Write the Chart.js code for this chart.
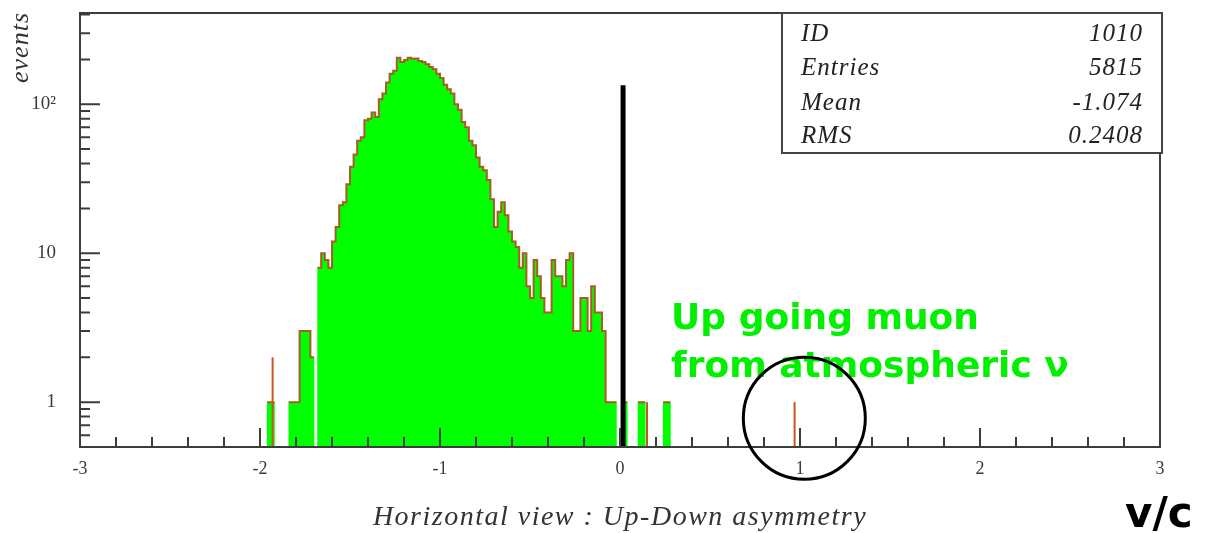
<!DOCTYPE html>
<html>
<head>
<meta charset="utf-8">
<script src="https://cdn.jsdelivr.net/npm/chart.js@4.4.1/dist/chart.umd.min.js"></script>
<style>
  body { margin: 0; background: #fff; }
  canvas { display: block; }
</style>
</head>
<body>
<canvas id="myChart" width="1207" height="533"></canvas>
<script>
// histogram bins: width 0.02, first bin starts at -2.00
var binStart = -2.0;
var binWidth = 0.02;
var counts = [
  0, 0, 1, 1, 0, 0, 0, 0, 1, 1,          // -2.00 .. -1.82
  1, 3, 3, 3, 2, 0, 8, 10, 9, 8,          // -1.80 .. -1.62
  12, 15, 21, 22, 29, 38, 46, 57, 60, 78, // -1.60 .. -1.42
  80, 88, 82, 108, 118, 140, 160, 168, 205, 192, // -1.40 .. -1.22
  198, 205, 202, 203, 195, 192, 186, 178, 172, 160, // -1.20 .. -1.02
  150, 135, 126, 118, 100, 92, 76, 70, 57, 53,  // -1.00 .. -0.82
  44, 38, 36, 31, 23, 15, 19, 22, 18, 14, // -0.80 .. -0.62
  12, 11, 8, 10, 6, 5, 9, 7, 5, 4,        // -0.60 .. -0.42
  4, 9, 7, 7, 6, 9, 10, 3, 3, 5,          // -0.40 .. -0.22
  5, 3, 6, 4, 4, 3, 1, 1, 1, 0,           // -0.20 .. -0.02
  0, 1, 0, 0, 0, 1, 1, 0, 0, 0,           //  0.00 ..  0.18
  0, 0, 1, 1                              //  0.20 ..  0.26
];
// orange entries of the overlaid histogram that stick out of the green one
var spikeX = [-1.93, 0.15, 0.97];
var spikeY = [2, 1, 1];

var xTicks = [-3, -2, -1, 0, 1, 2, 3];
var yTicks = [1, 10, 100];
var yTickLabels = ["1", "10", "10²"];

var statLabels = ["ID", "Entries", "Mean", "RMS"];
var statValues = ["1010", "5815", "-1.074", "0.2408"];

// vertical cut line at v/c = 0
var cutX = 0.017;
var cutTop = 134;

// annotation anchors (data coords)
var noteX = 0.284;
var noteLines = ["Up going muon", "from atmospheric ν"];
var noteY = [3.6, 1.7];
var circleX = 1.024, circleY = 0.78, circleR = 61;

var green = "#00ff00";
var edge = "#a85c26";
var frameColor = "#3c3c3c";

// build bars and outline from the counts
var barData = [];
var outline = [];
for (i = 0; i < counts.length; i++) {
  var lo = binStart + i * binWidth;
  if (counts[i] > 0) {
    barData.push({ x: +(lo + binWidth / 2).toFixed(3), y: counts[i] });
    outline.push({ x: +lo.toFixed(3), y: counts[i] });
    if (!(counts[i + 1] > 0)) {
      outline.push({ x: +(lo + binWidth).toFixed(3), y: counts[i] });
      outline.push({ x: +(lo + binWidth).toFixed(3), y: null });
    }
  }
}
var spikeData = [];
for (i = 0; i < spikeX.length; i++) spikeData.push({ x: spikeX[i], y: spikeY[i] });

function noPadding(scale) {
  scale.paddingTop = 0;
  scale.paddingBottom = 0;
  scale.paddingLeft = 0;
  scale.paddingRight = 0;
}

// PAW style frame, inward ticks, stats box and notes
var pawPlugin = {
  id: "paw",
  afterDatasetsDraw: function (chart) {
    var ctx = chart.ctx, a = chart.chartArea;
    var xs = chart.scales.x, ys = chart.scales.y;
    ctx.save();
    ctx.strokeStyle = frameColor;
    ctx.lineWidth = 2;
    ctx.beginPath();
    // x ticks every 0.2, long at integers
    for (var k = -15; k <= 15; k++) {
      var px = xs.getPixelForValue(k / 5);
      var len = k % 5 === 0 ? 19 : 10;
      ctx.moveTo(px, a.bottom);
      ctx.lineTo(px, a.bottom - len);
    }
    // y ticks: decades long, 2..9 short
    var decades = [0.1, 1, 10, 100];
    for (var d = 0; d < decades.length; d++) {
      for (var m = 1; m <= 9; m++) {
        var v = decades[d] * m;
        if (v < ys.min || v > ys.max) continue;
        var py = ys.getPixelForValue(v);
        var l = m === 1 ? 20 : 10;
        ctx.moveTo(a.left, py);
        ctx.lineTo(a.left + l, py);
      }
    }
    ctx.stroke();
    ctx.strokeRect(a.left, a.top, a.right - a.left, a.bottom - a.top);
    ctx.restore();
  },
  afterDraw: function (chart) {
    var ctx = chart.ctx, a = chart.chartArea;
    var xs = chart.scales.x, ys = chart.scales.y;
    ctx.save();
    // stats box
    var bw = 380, bh = 140;
    var bx = a.right + 2 - bw, by = a.top;
    ctx.fillStyle = "#fff";
    ctx.fillRect(bx, by, bw, bh);
    ctx.strokeStyle = "#444";
    ctx.lineWidth = 2;
    ctx.strokeRect(bx, by, bw, bh);
    ctx.fillStyle = "#222";
    ctx.font = "italic 25px 'Liberation Serif'";
    ctx.letterSpacing = "1px";
    ctx.textBaseline = "alphabetic";
    var base = [28, 62, 97, 130];
    for (var r = 0; r < statLabels.length; r++) {
      ctx.textAlign = "left";
      ctx.fillText(statLabels[r], bx + 19, by + base[r]);
      ctx.textAlign = "right";
      ctx.fillText(statValues[r], bx + bw - 19, by + base[r]);
    }

    // axis titles
    ctx.fillStyle = "#333";
    ctx.font = "italic 28px 'Liberation Serif'";
    ctx.letterSpacing = "1.5px";
    ctx.textAlign = "center";
    ctx.textBaseline = "middle";
    ctx.fillText("Horizontal view : Up-Down asymmetry", (a.left + a.right) / 2, 518);
    ctx.letterSpacing = "1px";
    ctx.font = "italic 26px 'Liberation Serif'";
    ctx.save();
    ctx.translate(21, 12);
    ctx.rotate(-Math.PI / 2);
    ctx.textAlign = "right";
    ctx.fillText("events", 0, 0);
    ctx.restore();
    ctx.letterSpacing = "0px";

    ctx.fillStyle = "#000";
    ctx.font = "bold 42px 'DejaVu Sans'";
    ctx.textAlign = "left";
    ctx.fillText("v/c", 1125, 516);

    // note text
    ctx.fillStyle = "#00f000";
    ctx.font = "bold 36px 'DejaVu Sans'";
    for (var n = 0; n < noteLines.length; n++) {
      ctx.fillText(noteLines[n], xs.getPixelForValue(noteX), ys.getPixelForValue(noteY[n]));
    }

    // circle around v/c = 1
    ctx.strokeStyle = "#000";
    ctx.lineWidth = 3;
    ctx.beginPath();
    ctx.arc(xs.getPixelForValue(circleX), ys.getPixelForValue(circleY), circleR, 0, Math.PI * 2);
    ctx.stroke();
    ctx.restore();
  }
};

var ctx = document.getElementById("myChart").getContext("2d");
var myChart = new Chart(ctx, {
  type: "bar",
  data: {
    datasets: [
      {
        label: "events",
        data: barData,
        backgroundColor: green,
        borderWidth: 0,
        barPercentage: 1,
        categoryPercentage: 1,
        grouped: false,
        order: 4,
      },
      {
        type: "line",
        label: "outline",
        data: outline,
        borderColor: edge,
        borderWidth: 2,
        stepped: true,
        pointRadius: 0,
        spanGaps: false,
        fill: false,
        order: 3,
      },
      {
        label: "second histogram",
        data: spikeData,
        backgroundColor: "#c8561e",
        borderWidth: 0,
        maxBarThickness: 2,
        grouped: false,
        order: 2,
      },
      {
        type: "line",
        label: "cut",
        data: [{ x: cutX, y: 0.5 }, { x: cutX, y: cutTop }],
        borderColor: "#000",
        borderWidth: 5,
        pointRadius: 0,
        fill: false,
        order: 1,
      },
    ],
  },
  options: {
    responsive: false,
    animation: false,
    layout: { padding: { top: 13, right: 47, left: 0, bottom: 0 } },
    plugins: {
      legend: { display: false },
      tooltip: { enabled: false },
    },
    scales: {
      x: {
        type: "linear",
        min: -3,
        max: 3,
        offset: false,
        grid: { display: false, drawTicks: false },
        border: { display: false },
        afterBuildTicks: function (scale) {
          scale.ticks = xTicks.map(function (v) { return { value: v }; });
        },
        afterFit: function (scale) { scale.height = 86; noPadding(scale); },
        ticks: {
          autoSkip: false,
          maxRotation: 0,
          padding: 11,
          color: "#3a3a3a",
          font: { family: "Liberation Serif", size: 18 },
          callback: function (value) { return String(value); },
        },
      },
      y: {
        type: "logarithmic",
        min: 0.5,
        max: 410,
        grid: { display: false, drawTicks: false },
        border: { display: false },
        afterBuildTicks: function (scale) {
          scale.ticks = yTicks.map(function (v) { return { value: v }; });
        },
        afterFit: function (scale) { scale.width = 80; noPadding(scale); },
        ticks: {
          padding: 24,
          color: "#3a3a3a",
          font: { family: "Liberation Serif", size: 19 },
          callback: function (value, index) { return yTickLabels[index]; },
        },
      },
    },
  },
  plugins: [pawPlugin],
});
</script>
</body>
</html>
